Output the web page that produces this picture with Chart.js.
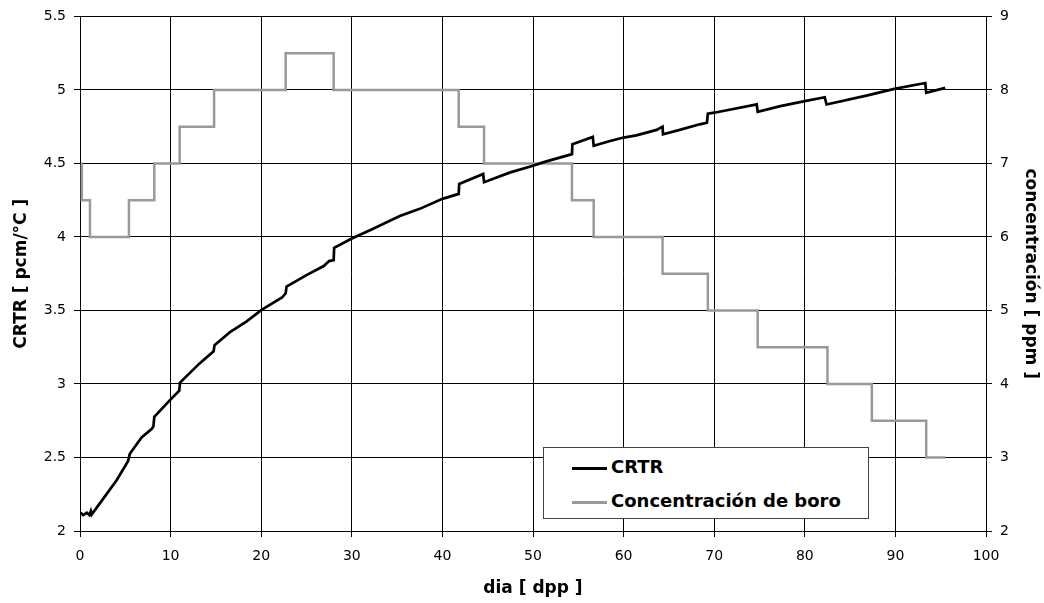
<!DOCTYPE html>
<html>
<head>
<meta charset="utf-8">
<script src="https://cdn.jsdelivr.net/npm/chart.js@4/dist/chart.umd.min.js"></script>
<style>
    html, body { margin: 0; padding: 0; background: #fff; }
    #wrap { position: relative; width: 1044px; height: 603px; }
    #legendBox {
        position: absolute; left: 543px; top: 447px; width: 324px; height: 70px;
        border: 1px solid #444; background: #fff;
        font-family: "DejaVu Sans", sans-serif; font-weight: bold; font-size: 18px; color: #000;
    }
    .item { position: absolute; left: 28px; height: 20px; line-height: 20px; white-space: nowrap; }
    .swatch { display: inline-block; width: 35px; height: 0; vertical-align: middle; margin-right: 4px; }
</style>
</head>
<body>
<div id="wrap">
    <canvas id="crtrChart" width="1044" height="603"></canvas>
    <div id="legendBox">
        <div class="item" style="top:9px"><span class="swatch" style="border-top:3px solid #000"></span>CRTR</div>
        <div class="item" style="top:43px"><span class="swatch" style="border-top:3px solid #999"></span>Concentración de boro</div>
    </div>
</div>
<script>
    // CRTR [pcm/°C] vs dia [dpp]
    const crtrDays = [0.08, 0.35, 0.75, 1.05, 1.2, 1.3, 2.57, 4.04, 5.3, 5.5, 6.8, 7.9, 8.1, 8.2, 9.93, 10.96, 11.04,
        13.2, 14.75, 14.85, 16.6, 18.4, 20, 22.3, 22.7, 22.8, 25.0, 26.9, 27.5, 28.0, 28.05, 30, 32, 35.3, 37.5,
        40, 41.8, 41.85, 44.5, 44.6, 47.5, 50, 51.1, 54.3, 54.35, 55.2, 56.6, 56.7, 58.5, 60, 61.4, 63.65, 64.3,
        64.35, 66.2, 68.4, 69.2, 69.3, 70, 74.7, 74.8, 77.3, 80, 82.2, 82.4, 86.8, 90, 93.3, 93.4, 95.5];
    const crtrValues = [2.124, 2.108, 2.124, 2.108, 2.135, 2.113, 2.22, 2.345, 2.475, 2.525, 2.637, 2.694, 2.71, 2.777, 2.89, 2.955, 3.01,
        3.14, 3.223, 3.264, 3.355, 3.426, 3.502, 3.588, 3.617, 3.662, 3.74, 3.802, 3.836, 3.842, 3.926, 3.989, 4.045, 4.142, 4.191,
        4.259, 4.293, 4.36, 4.428, 4.372, 4.439, 4.484, 4.507, 4.563, 4.63, 4.649, 4.68, 4.62, 4.653, 4.676, 4.691, 4.728, 4.75,
        4.698, 4.728, 4.766, 4.777, 4.838, 4.845, 4.901, 4.851, 4.89, 4.924, 4.95, 4.901, 4.961, 5.009, 5.047, 4.98, 5.014];

    // Concentración de boro [ppm] - day where each level starts
    const boroDays = [0.15, 0.2, 1.1, 5.4, 8.2, 11.0, 14.8, 22.7, 28.0, 41.8, 44.6, 54.3, 56.7, 64.3, 69.3, 74.8, 82.5, 87.4, 93.4, 95.5];
    const boroValues = [7, 6.5, 6, 6.5, 7, 7.5, 8, 8.5, 8, 7.5, 7, 6.5, 6, 5.5, 5, 4.5, 4, 3.5, 3, 3];

    // axis ranges
    const xTicks = [0, 10, 20, 30, 40, 50, 60, 70, 80, 90, 100];
    const yLeftTicks = [2, 2.5, 3, 3.5, 4, 4.5, 5, 5.5];
    const yRightTicks = [2, 3, 4, 5, 6, 7, 8, 9];

    const font = "'DejaVu Sans', sans-serif";

    function toPoints(xs, ys) {
        return xs.map((x, i) => ({ x: x, y: ys[i] }));
    }

    const ctx = document.getElementById("crtrChart").getContext("2d");

    new Chart(ctx, {
        type: "line",
        data: {
            datasets: [
                {
                    label: "CRTR",
                    data: toPoints(crtrDays, crtrValues),
                    borderColor: "#000",
                    borderWidth: 2.7,
                    pointRadius: 0,
                    tension: 0,
                    yAxisID: "y",
                },
                {
                    label: "Concentración de boro",
                    data: toPoints(boroDays, boroValues),
                    borderColor: "#999",
                    borderWidth: 2.5,
                    pointRadius: 0,
                    stepped: "before",
                    yAxisID: "y1",
                },
            ],
        },
        options: {
            responsive: false,
            animation: false,
            layout: { padding: { top: 13, left: 0, right: 0, bottom: 0 } },
            plugins: {
                legend: { display: false },
                title: { display: false },
                tooltip: { enabled: false },
            },
            scales: {
                x: {
                    type: "linear",
                    min: xTicks[0],
                    max: xTicks[xTicks.length - 1],
                    afterBuildTicks: (s) => { s.ticks = xTicks.map(v => ({ value: v })); },
                    afterFit: (s) => { s.height = 72; },
                    ticks: { color: "#000", font: { family: font, size: 14 }, padding: 11 },
                    grid: { color: "#000", lineWidth: 1, tickLength: 6 },
                    border: { color: "#000" },
                    title: {
                        display: true, text: "dia [ dpp ]", color: "#000",
                        font: { family: font, size: 17, weight: "bold" },
                        padding: { top: 0, bottom: 4 },
                    },
                },
                y: {
                    position: "left",
                    min: 2,
                    max: 5.5,
                    afterBuildTicks: (s) => { s.ticks = yLeftTicks.map(v => ({ value: v })); },
                    afterFit: (s) => { s.width = 80; },
                    ticks: { color: "#000", font: { family: font, size: 14 }, padding: 8, callback: (v) => String(v) },
                    grid: { color: "#000", lineWidth: 1, tickLength: 6 },
                    border: { color: "#000" },
                    title: {
                        display: true, text: "CRTR [ pcm/°C ]", color: "#000",
                        font: { family: font, size: 17, weight: "bold" },
                        padding: { top: 11, bottom: 0 },
                    },
                },
                y1: {
                    position: "right",
                    min: 2,
                    max: 9,
                    afterBuildTicks: (s) => { s.ticks = yRightTicks.map(v => ({ value: v })); },
                    afterFit: (s) => { s.width = 58; },
                    ticks: { color: "#000", font: { family: font, size: 14 }, padding: 8, callback: (v) => String(v) },
                    grid: { drawOnChartArea: false, color: "#000", tickLength: 6 },
                    border: { color: "#000" },
                    title: {
                        display: true, text: "concentración [ ppm ]", color: "#000",
                        font: { family: font, size: 17, weight: "bold" },
                        padding: { top: 3, bottom: 0 },
                    },
                },
            },
        },
    });
</script>
</body>
</html>
